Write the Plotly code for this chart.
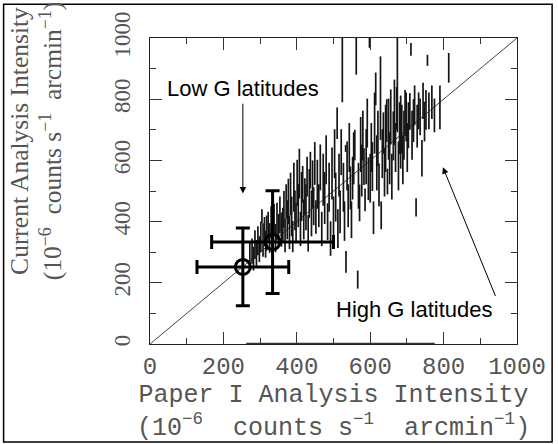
import plotly.graph_objects as go

# ---- data ----
bar_x = [272, 278, 282, 286, 290, 294, 298, 302, 305, 308, 312, 315, 318, 322, 326, 330, 334, 338, 342, 346, 350, 354, 358,
         362, 365, 368, 371, 374, 377, 380, 383, 386, 389, 392, 395, 398, 401, 404, 407, 410, 413, 416, 419, 422, 425, 428,
         431, 434, 437, 440, 443, 446, 449, 452,
         456, 460, 464, 468, 472, 476, 480, 484, 488, 492, 496, 500, 503, 506, 510, 512, 515, 518, 521, 524, 527, 530, 533,
         534, 537, 540, 543, 546, 549, 552, 555, 558, 562, 566,
         568, 571, 574, 577, 580, 583, 586, 589, 592, 595, 598, 600, 603, 606, 609, 612, 615, 618, 621, 624, 628, 630, 633,
         636, 639, 642, 645, 647, 650, 653, 656, 659,
         663, 666, 669, 672, 674, 677, 680, 683, 686, 689, 692, 695, 698, 701, 704, 708, 711, 714, 718, 721, 725, 728, 732,
         736, 741, 744, 748, 752, 756, 760, 768, 775, 790, 814]
bar_lo = [250, 262, 240, 278, 255, 290, 268, 300, 395, 285, 320, 282, 305, 330, 298, 345, 312, 352, 300, 340, 322, 362, 318,
          335, 380, 300, 410, 342, 392, 310, 420, 352, 300, 432, 372, 330, 452, 382, 476, 320, 402, 462, 342, 422, 372, 482,
          302, 412, 508, 352, 445, 388, 520, 360,
          442, 382, 502, 320, 452, 392, 522, 340, 432, 288, 472, 352, 542, 400, 670, 314, 482, 362, 552, 790, 432, 337, 628,
          233, 502, 382, 562, 440, 346, 472, 522, 600, 880, 181,
          442, 401, 562, 482, 600, 520, 434, 522, 642, 470, 968, 462, 562, 500, 359, 622, 780, 502, 582, 450, 667, 375, 542,
          622, 482, 562, 660, 489, 602, 522, 652, 472,
          600, 650, 562, 700, 692, 502, 620, 573, 622, 522, 602, 680, 662, 562, 640, 700, 942, 602, 660, 715, 417, 642, 702,
          682, 547, 735, 662, 700, 909, 702, 735, 692, 702, 854]
bar_hi = [330, 345, 318, 372, 340, 385, 352, 400, 440, 395, 415, 370, 420, 432, 395, 450, 405, 458, 392, 462, 425, 482, 430,
          445, 500, 410, 522, 470, 540, 420, 560, 482, 402, 592, 502, 462, 602, 522, 638, 432, 562, 582, 472, 542, 522, 612,
          422, 572, 628, 502, 600, 512, 660, 470,
          602, 522, 652, 432, 622, 562, 682, 460, 592, 401, 642, 482, 702, 560, 773, 440, 622, 502, 702, 1050, 592, 466, 650,
          304, 662, 522, 722, 580, 466, 612, 692, 700, 1050, 240,
          592, 521, 742, 652, 762, 640, 508, 702, 802, 610, 1050, 622, 722, 660, 466, 822, 887, 682, 762, 590, 940, 466, 702,
          757, 642, 782, 800, 573, 802, 692, 832, 622,
          760, 864, 722, 840, 1050, 662, 790, 812, 782, 682, 762, 830, 822, 722, 790, 820, 984, 762, 800, 845, 476, 782, 822,
          802, 667, 854, 792, 830, 945, 822, 845, 802, 845, 951]

low_g_x = [253, 334]
low_g_y = [252, 333]
low_g_xerr = [125, 166]
low_g_yerr = [127, 168]

diag_x = [0, 1000]
diag_y = [0, 1000]

base_x = [262, 776]
base_y = [0, 0]

tick_vals = [0, 200, 400, 600, 800, 1000]
tick_text = ["0", "200", "400", "600", "800", "1000"]

# ---- figure ----
fig = go.Figure()

fig.add_trace(go.Scatter(x=diag_x, y=diag_y, mode="lines",
                         line=dict(color="#444444", width=1), showlegend=False, hoverinfo="skip"))

bar_up = [h - l for l, h in zip(bar_lo, bar_hi)]
fig.add_trace(go.Scatter(
    x=bar_x, y=bar_lo, mode="markers",
    marker=dict(size=1, color="rgba(0,0,0,0)"),
    error_y=dict(type="data", symmetric=False, array=bar_up, arrayminus=[0] * len(bar_lo),
                 thickness=1.7, width=0, color="#151515"),
    showlegend=False))

fig.add_trace(go.Scatter(x=base_x, y=base_y, mode="lines", cliponaxis=False,
                         line=dict(color="#333333", width=2.5), showlegend=False, hoverinfo="skip"))

fig.add_trace(go.Scatter(
    x=low_g_x, y=low_g_y, mode="markers",
    marker=dict(symbol="circle-open", size=15, color="black", line=dict(width=3, color="black")),
    error_x=dict(type="data", array=low_g_xerr, thickness=3, width=7, color="black"),
    error_y=dict(type="data", array=low_g_yerr, thickness=3, width=7, color="black"),
    showlegend=False))

axis_common = dict(
    range=[0, 1000], showgrid=False, zeroline=False,
    showline=True, linecolor="#222222", linewidth=1, mirror="ticks",
    ticks="inside", ticklen=12, tickwidth=1, tickcolor="#333333",
    tickvals=tick_vals, ticktext=tick_text,
    minor=dict(dtick=100, tick0=0, ticks="inside", ticklen=6, tickwidth=1, tickcolor="#333333"),
)

fig.update_xaxes(**axis_common, ticklabelstandoff=0,
                 tickfont=dict(family="Liberation Mono", size=24, color="#555555"))
fig.update_yaxes(**axis_common, tickangle=-90, ticklabelstandoff=10,
                 tickfont=dict(family="Liberation Serif", size=23, color="#555555"))

nb = "\u00a0"
units = "(10<sup>−6</sup>" + nb + " counts s<sup>−1</sup>" + nb + " arcmin<sup>−1</sup>)"

annotations = [
    dict(text="Paper I Analysis Intensity<br>" + units, xref="paper", yref="paper",
         x=0.5, y=-0.222, xanchor="center", yanchor="middle", showarrow=False,
         font=dict(family="Liberation Mono", size=25, color="#555555")),
    dict(text="Current Analysis Intensity<br>" + units, xref="paper", yref="paper",
         x=-0.31, y=0.663, xanchor="center", yanchor="middle", textangle=-90, showarrow=False,
         font=dict(family="Liberation Serif", size=25.5, color="#555555")),
    dict(text="Low G latitudes", x=253, y=835, xref="x", yref="y", showarrow=False,
         font=dict(family="Liberation Sans", size=22, color="black")),
    dict(text="", x=253, y=492, ax=253, ay=790, xref="x", yref="y", axref="x", ayref="y",
         showarrow=True, arrowhead=2, arrowsize=1.3, arrowwidth=1, arrowcolor="black"),
    dict(text="High G latitudes", x=722, y=113, xref="x", yref="y", showarrow=False,
         font=dict(family="Liberation Sans", size=22, color="black")),
    dict(text="", x=798, y=578, ax=943, ay=152, xref="x", yref="y", axref="x", ayref="y",
         showarrow=True, arrowhead=2, arrowsize=1.3, arrowwidth=1, arrowcolor="black"),
]

fig.update_layout(
    width=558, height=444,
    margin=dict(l=150, r=37, t=35, b=100),
    paper_bgcolor="white", plot_bgcolor="white",
    annotations=annotations,
    shapes=[dict(type="rect", xref="paper", yref="paper",
                 x0=-0.3989, x1=1.0957, y0=-0.3204, y1=1.1101,
                 line=dict(color="black", width=1.5))],
)

fig.write_html("out.html", config={"displayModeBar": False},
               post_script="document.body.style.margin='0px';")
